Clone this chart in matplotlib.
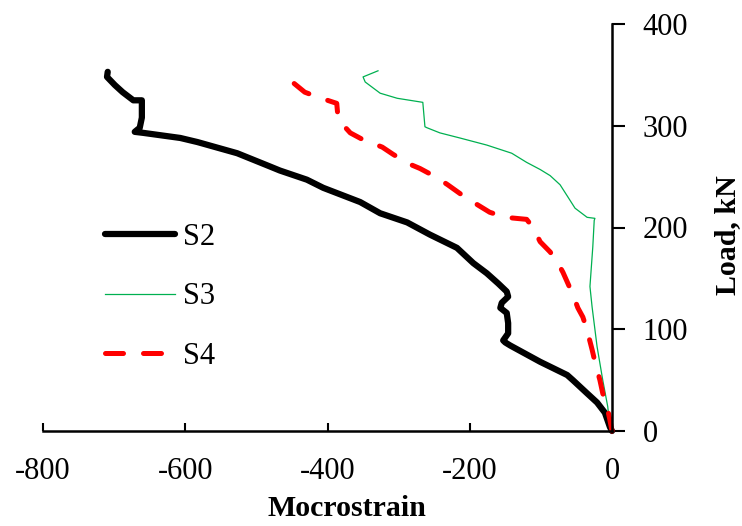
import numpy as np
import matplotlib.pyplot as plt

plt.rcParams['font.family'] = ['Liberation Serif', 'DejaVu Serif']
plt.rcParams['axes.unicode_minus'] = False

# strain (microstrain) and load (kN)
s2_strain = [0, -3, -10, -21, -35, -55, -63, -101, -143, -150, -153, -146, -146, -148, -157, -155,
             -146, -148, -160, -176, -195, -218, -256, -288, -326, -354, -406, -429, -467, -481,
             -527, -583, -607, -659, -671, -664, -661, -661, -673, -688, -699, -710, -709]
s2_load = [0, 4, 18, 28, 37, 50, 55, 68, 84, 87, 89, 96, 106, 116, 121, 126,
           132, 137, 145, 155, 165, 180, 193, 205, 214, 225, 239, 247, 256, 260,
           273, 284, 288, 293, 294, 298, 308, 325, 325, 333, 340, 348, 353]

s3_strain = [0, -3, -6, -13, -21, -28, -31, -27, -25, -24, -35, -52, -62, -73, -87, -101,
             -120, -141, -176, -214, -242, -260, -263, -266, -302, -326, -347, -350, -329]
s3_load = [0, 4, 24, 50, 83, 122, 142, 181, 207, 209, 210, 219, 230, 242, 251, 257,
           264, 273, 281, 288, 293, 298, 299, 323, 327, 332, 343, 348, 354]

s4_strain = [0, -3, -7, -13, -17, -24, -28, -35, -41, -48, -55, -62, -69, -76, -87, -101,
             -111, -120, -150, -172, -193, -209, -231, -246, -270, -287, -308, -323, -352,
             -368, -385, -387, -413, -432, -453, -456]
s4_load = [0, 11, 24, 37, 50, 68, 80, 99, 112, 121, 134, 145, 156, 165, 176, 186,
           200, 208, 210, 215, 224, 231, 242, 249, 258, 263, 272, 279, 287,
           293, 306, 322, 328, 333, 345, 352]

x_ticks = [-800, -600, -400, -200, 0]
y_ticks = [0, 100, 200, 300, 400]

fig = plt.figure(figsize=(7.42, 5.26), dpi=100)
ax = fig.add_axes([43/742, 1-431/526, (612-43)/742, (431-24)/526])

ax.plot(s2_strain, s2_load, color='black', lw=4.5, solid_capstyle='round',
        solid_joinstyle='round', label='S2', clip_on=False)
ax.plot(s3_strain, s3_load, color='#00B050', lw=0.9, label='S3', clip_on=False)
ax.plot(s4_strain, s4_load, color='#FF0000', lw=3.6, dashes=(3.6, 4.0),
        dash_capstyle='round', label='S4', clip_on=False)

ax.set_xlim(-800, 0)
ax.set_ylim(0, 400)
ax.set_xticks(x_ticks)
ax.set_yticks(y_ticks)

for s in ['top', 'left']:
    ax.spines[s].set_visible(False)
for s in ['bottom', 'right']:
    ax.spines[s].set_linewidth(1.8)

ax.yaxis.tick_right()
ax.tick_params(axis='x', direction='in', length=6, width=1.5, labelsize=22, pad=19)
ax.tick_params(axis='y', direction='out', length=9, width=1.5, labelsize=22, pad=13)

fig.text(347/742, 1-509/526, 'Mocrostrain', fontsize=21.5, fontweight='bold',
         ha='center', va='center')
fig.text(728/742, 1-235/526, 'Load, kN', fontsize=21.5, fontweight='bold',
         ha='center', va='center', rotation=90)

ax.legend(loc='center left', bbox_to_anchor=(105/742, 1-297/526),
          bbox_transform=fig.transFigure, frameon=False, fontsize=22,
          handlelength=2.3, handletextpad=0.25, labelspacing=1.0,
          borderpad=0, borderaxespad=0)

fig.savefig('out.png', dpi=100)
